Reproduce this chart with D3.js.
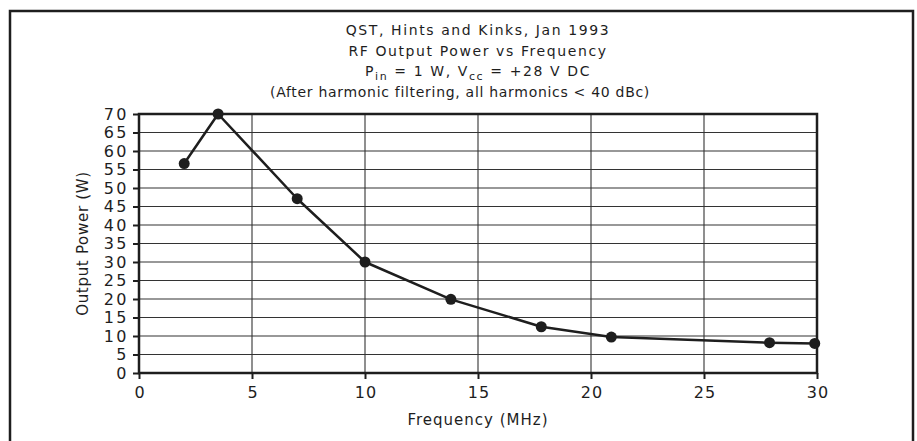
<!DOCTYPE html>
<html>
<head>
<meta charset="utf-8">
<script src="https://cdn.jsdelivr.net/npm/d3@7/dist/d3.min.js"></script>
<style>
  body { margin: 0; background: #fff; }
  text { font-family: "DejaVu Sans", sans-serif; fill: #1e1e1e; }
</style>
</head>
<body>
<div id="chart"></div>
<script>
// data
const freqMHz = [2, 3.5, 7, 10, 13.8, 17.8, 20.9, 27.9, 29.9]
const powerW = [56.6, 70, 47.1, 30, 19.9, 12.5, 9.7, 8.2, 8.0]
const xTicks = [0, 5, 10, 15, 20, 25, 30]
const yTicks = [0, 5, 10, 15, 20, 25, 30, 35, 40, 45, 50, 55, 60, 65, 70]
const titleLines = ["QST, Hints and Kinks, Jan 1993", "RF Output Power vs Frequency"]

const width = 917
const height = 441
const margin = { top: 114, bottom: 68, left: 139, right: 100 }
const innerW = width - margin.left - margin.right
const innerH = height - margin.top - margin.bottom
const ink = "#1e1e1e"

const svg = d3.select("#chart").append("svg").attr("width", width).attr("height", height)

// outer frame (runs off the bottom of the picture)
svg.append("rect")
    .attr("x", 10).attr("y", 11)
    .attr("width", 903).attr("height", 470)
    .attr("fill", "none").attr("stroke", ink).attr("stroke-width", 2.5)

// scales
const x = d3.scaleLinear().domain([0, 30]).range([0, innerW])
const y = d3.scaleLinear().domain([0, 70]).range([innerH, 0])

const g = svg.append("g").attr("transform", `translate(${margin.left}, ${margin.top})`)

// grid
g.append("g").selectAll("line").data(yTicks.filter(d => d > 0 && d < 70)).enter().append("line")
    .attr("x1", 0).attr("x2", innerW)
    .attr("y1", d => y(d)).attr("y2", d => y(d))
    .attr("stroke", "#333").attr("stroke-width", 1.1)
g.append("g").selectAll("line").data(xTicks.filter(d => d > 0 && d < 30)).enter().append("line")
    .attr("y1", 0).attr("y2", innerH)
    .attr("x1", d => x(d)).attr("x2", d => x(d))
    .attr("stroke", "#333").attr("stroke-width", 1.1)

// axes
const xAxis = d3.axisBottom(x).tickValues(xTicks).tickSize(6).tickPadding(8).tickFormat(d3.format("d"))
const yAxis = d3.axisLeft(y).tickValues(yTicks).tickSize(6).tickPadding(4).tickFormat(d3.format("d"))

const xGroup = g.append("g").attr("transform", `translate(0, ${innerH})`).call(xAxis)
const yGroup = g.append("g").call(yAxis)
for (const ag of [xGroup, yGroup]) {
    ag.select(".domain").remove()
    ag.selectAll(".tick line").attr("stroke", ink).attr("stroke-width", 2)
    ag.selectAll(".tick text").attr("fill", ink)
        .style("font-family", "DejaVu Sans").style("font-size", "16px")
}
xGroup.selectAll(".tick text").style("letter-spacing", "1px").attr("dx", "0.5px")
yGroup.selectAll(".tick text").style("letter-spacing", "2.5px")

// plot border
g.append("rect")
    .attr("width", innerW).attr("height", innerH)
    .attr("fill", "none").attr("stroke", ink).attr("stroke-width", 2.5)

// curve + markers
const line = d3.line().x((d, i) => x(freqMHz[i])).y(d => y(d))
g.append("path").datum(powerW)
    .attr("d", line)
    .attr("fill", "none").attr("stroke", ink).attr("stroke-width", 2.5)
    .attr("stroke-linejoin", "round")
g.selectAll(".dot").data(powerW).enter().append("circle")
    .attr("class", "dot")
    .attr("cx", (d, i) => x(freqMHz[i])).attr("cy", d => y(d))
    .attr("r", 5.5).attr("fill", ink)

// titles
const cx = margin.left + innerW / 2
svg.selectAll(".title").data(titleLines).enter().append("text")
    .attr("class", "title")
    .attr("x", cx).attr("y", (d, i) => 35 + i * 20.5)
    .attr("text-anchor", "middle").style("font-size", "14px")
    .style("letter-spacing", "1.6px")
    .text(d => d)

const t3 = svg.append("text").attr("x", cx).attr("y", 76)
    .attr("text-anchor", "middle").style("font-size", "14px")
    .style("letter-spacing", "1.6px")
t3.append("tspan").text("P")
t3.append("tspan").attr("dy", 4).style("font-size", "11px").text("in")
t3.append("tspan").attr("dy", -4).text(" = 1 W, V")
t3.append("tspan").attr("dy", 4).style("font-size", "11px").text("cc")
t3.append("tspan").attr("dy", -4).text(" = +28 V DC")

svg.append("text").attr("x", cx - 18).attr("y", 97)
    .attr("text-anchor", "middle").style("font-size", "14px")
    .style("letter-spacing", "0.7px")
    .text("(After harmonic filtering, all harmonics < 40 dBc)")

// axis labels
svg.append("text")
    .attr("x", cx).attr("y", 425)
    .attr("text-anchor", "middle").style("font-size", "15px")
    .style("letter-spacing", "1px")
    .text("Frequency (MHz)")

svg.append("text")
    .attr("transform", `translate(88, ${margin.top + innerH / 2}) rotate(-90)`)
    .attr("text-anchor", "middle").style("font-size", "15px")
    .style("letter-spacing", "0.7px")
    .text("Output Power (W)")
</script>
</body>
</html>
